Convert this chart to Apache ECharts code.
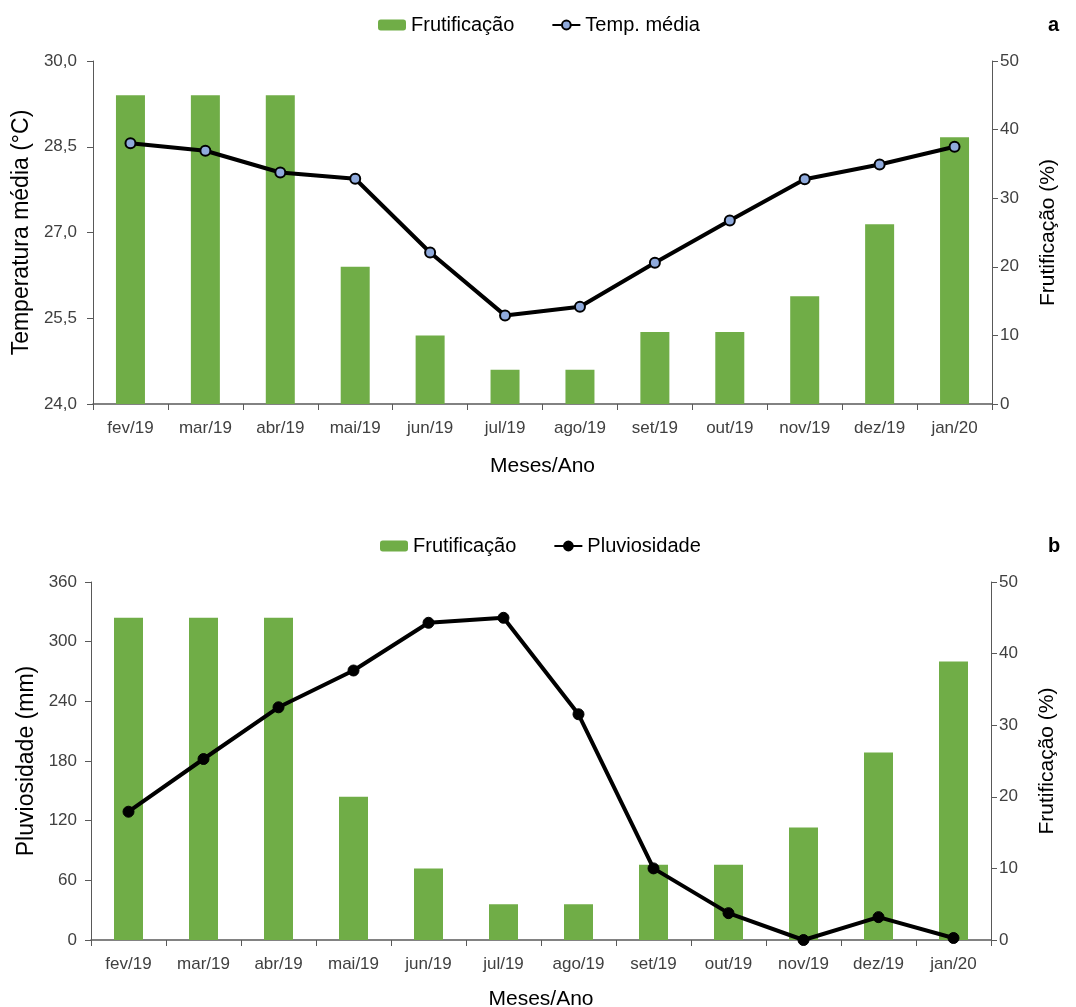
<!DOCTYPE html>
<html>
<head>
<meta charset="utf-8">
<script src="https://cdn.jsdelivr.net/npm/echarts@6/dist/echarts.min.js"></script>
<style>
  html, body { margin: 0; padding: 0; background: #fff; }
  #chart { width: 1076px; height: 1007px; }
</style>
</head>
<body>
<div id="chart"></div>
<script>
// Months of the study period
const months = ['fev/19', 'mar/19', 'abr/19', 'mai/19', 'jun/19', 'jul/19',
                'ago/19', 'set/19', 'out/19', 'nov/19', 'dez/19', 'jan/20'];

// Fruiting (%) per month
const frutificacao = [45, 45, 45, 20, 10, 5, 5, 10.5, 10.5, 15.7, 26.2, 38.9];

// Mean temperature (°C) per month
const tempMedia = [28.56, 28.43, 28.05, 27.94, 26.65, 25.55, 25.70, 26.47, 27.21, 27.93, 28.19, 28.50];

// Rainfall (mm) per month
const pluviosidade = [129, 182, 234, 271, 319, 324, 227, 72, 27, 0, 23, 2];

const FONT = 'Liberation Sans, Arial, sans-serif';
const AXIS_COLOR = '#595959';
const TICK_TEXT = '#404040';
const BAR_COLOR = '#70AD47';

function xAxisFor(gridIndex, nameGap) {
  return {
    type: 'category',
    gridIndex: gridIndex,
    data: months,
    boundaryGap: true,
    name: 'Meses/Ano',
    nameLocation: 'middle',
    nameGap: nameGap,
    nameTextStyle: { fontFamily: FONT, fontSize: 21, color: '#000' },
    axisLine: { show: true, lineStyle: { color: AXIS_COLOR, width: 1.5 } },
    axisTick: { show: true, length: 6, lineStyle: { color: AXIS_COLOR } },
    axisLabel: { fontFamily: FONT, fontSize: 17, color: TICK_TEXT, margin: 16 },
    splitLine: { show: false }
  };
}

function valueAxis(gridIndex, opts) {
  return Object.assign({
    type: 'value',
    gridIndex: gridIndex,
    nameLocation: 'middle',
    nameRotate: 90,
    nameTextStyle: { fontFamily: FONT, fontSize: 23, color: '#000' },
    axisLine: { show: true, lineStyle: { color: AXIS_COLOR, width: 1 } },
    axisTick: { show: true, length: 6, lineStyle: { color: AXIS_COLOR } },
    axisLabel: { fontFamily: FONT, fontSize: 17, color: TICK_TEXT, margin: 15 },
    splitLine: { show: false }
  }, opts);
}

const rightLabel = { fontFamily: FONT, fontSize: 17, color: TICK_TEXT, margin: 8 };
const rightName = { fontFamily: FONT, fontSize: 21, color: '#000' };

const legendStyle = {
  itemWidth: 28,
  itemHeight: 11,
  itemGap: 37,
  textStyle: { fontFamily: FONT, fontSize: 20, color: '#000' }
};

const option = {
  backgroundColor: '#fff',
  animation: false,
  title: [
    { text: 'a', left: 1043, top: 10, textStyle: { fontFamily: FONT, fontSize: 20, fontWeight: 'bold', color: '#000' } },
    { text: 'b', left: 1043, top: 531, textStyle: { fontFamily: FONT, fontSize: 20, fontWeight: 'bold', color: '#000' } }
  ],
  legend: [
    Object.assign({ top: 10, left: 373, data: [
      { name: 'Frutificação' }, { name: 'Temp. média' }
    ] }, legendStyle),
    Object.assign({ top: 531, left: 375, data: [
      { name: 'Frutificação' }, { name: 'Pluviosidade' }
    ] }, legendStyle)
  ],
  grid: [
    { left: 93, right: 84, top: 61, height: 343, outerBoundsMode: 'none' },
    { left: 91, right: 85, top: 582, height: 358, outerBoundsMode: 'none' }
  ],
  xAxis: [xAxisFor(0, 52), xAxisFor(1, 49)],
  yAxis: [
    valueAxis(0, {
      min: 24, max: 30, interval: 1.5,
      name: 'Temperatura média (°C)', nameGap: 59,
      axisLabel: { fontFamily: FONT, fontSize: 17, color: TICK_TEXT, margin: 16,
        formatter: v => v.toFixed(1).replace('.', ',') }
    }),
    valueAxis(0, {
      min: 0, max: 50, interval: 10, position: 'right',
      name: 'Frutificação (%)', nameGap: 46,
      nameTextStyle: rightName, axisLabel: rightLabel
    }),
    valueAxis(1, {
      min: 0, max: 360, interval: 60,
      name: 'Pluviosidade (mm)', nameGap: 53,
      axisLabel: { fontFamily: FONT, fontSize: 17, color: TICK_TEXT, margin: 14 }
    }),
    valueAxis(1, {
      min: 0, max: 50, interval: 10, position: 'right',
      name: 'Frutificação (%)', nameGap: 46,
      nameTextStyle: rightName, axisLabel: rightLabel
    })
  ],
  series: [
    {
      name: 'Frutificação', type: 'bar', xAxisIndex: 0, yAxisIndex: 1,
      data: frutificacao, barWidth: 29,
      itemStyle: { color: BAR_COLOR }
    },
    {
      name: 'Temp. média', type: 'line', xAxisIndex: 0, yAxisIndex: 0,
      data: tempMedia, symbol: 'circle', symbolSize: 10,
      lineStyle: { color: '#000', width: 4 },
      itemStyle: { color: '#8FAADC', borderColor: '#000', borderWidth: 2 }
    },
    {
      name: 'Frutificação', type: 'bar', xAxisIndex: 1, yAxisIndex: 3,
      data: frutificacao, barWidth: 29,
      itemStyle: { color: BAR_COLOR }
    },
    {
      name: 'Pluviosidade', type: 'line', xAxisIndex: 1, yAxisIndex: 2,
      data: pluviosidade, symbol: 'circle', symbolSize: 11,
      lineStyle: { color: '#000', width: 4 },
      itemStyle: { color: '#000', borderColor: '#000', borderWidth: 1 }
    }
  ]
};

const chart = echarts.init(document.getElementById('chart'), null, { renderer: 'canvas' });
chart.setOption(option);
</script>
</body>
</html>
